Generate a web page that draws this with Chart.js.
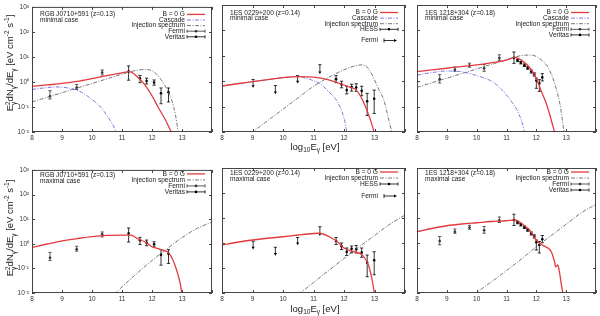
<!DOCTYPE html>
<html>
<head>
<meta charset="utf-8">
<script src="https://cdn.jsdelivr.net/npm/chart.js@4.4.1/dist/chart.umd.min.js"></script>
<style>
  body { margin: 0; background: #fff; width: 600px; height: 316px; overflow: hidden; position: relative;
         font-family: "Liberation Sans", Arial, sans-serif; color: #222; }
  canvas { position: absolute; }
  .xlabel { position: absolute; font-size: 9.5px; white-space: nowrap; transform: translate(-50%, -50%); }
  .ylabel { position: absolute; font-size: 9.5px; white-space: nowrap; transform: translate(-50%, -50%) rotate(-90deg); }
  .xlabel sub, .ylabel sub, .ylabel sup { font-size: 6.5px; }
  .ss { display: inline-flex; flex-direction: column; font-size: 6.5px; line-height: 6px; vertical-align: middle; }
</style>
</head>
<body>
<canvas id="p1"></canvas>
<canvas id="p2"></canvas>
<canvas id="p3"></canvas>
<canvas id="p4"></canvas>
<canvas id="p5"></canvas>
<canvas id="p6"></canvas>
<div class="ylabel" style="left:10px; top:63px">E<span class="ss"><span>2</span><span>γ</span></span>dN<sub>γ</sub>/dE<sub>γ</sub> [eV cm<sup>-2</sup> s<sup>-1</sup>]</div>
<div class="ylabel" style="left:10px; top:228px">E<span class="ss"><span>2</span><span>γ</span></span>dN<sub>γ</sub>/dE<sub>γ</sub> [eV cm<sup>-2</sup> s<sup>-1</sup>]</div>
<div class="xlabel" style="left:315px; top:147px">log<sub>10</sub>E<sub>γ</sub> [eV]</div>
<div class="xlabel" style="left:315px; top:309px">log<sub>10</sub>E<sub>γ</sub> [eV]</div>
<script>
// x = log10(E/eV), fluxes below are log10 of E^2 dN/dE [eV cm^-2 s^-1]
const xTicks = [8, 9, 10, 11, 12, 13, 14];
const yTicks = [1e-2, 1e-1, 1e0, 1e1, 1e2, 1e3];
const yTickLabels = ['10⁻²', '10⁻¹', '10⁰', '10¹', '10²', '10³'];

// --- RGB J0710+591 data
const j0710FermiE = [8.6, 9.49, 10.34];
const j0710FermiF = [-0.57, -0.22, 0.38];
const j0710FermiHi = [-0.35, -0.1, 0.48];
const j0710FermiLo = [-0.68, -0.3, 0.28];
const j0710VeritasE = [11.22, 11.6, 11.82, 12.07, 12.3, 12.55];
const j0710VeritasF = [0.42, 0.14, 0.04, -0.02, -0.45, -0.41];
const j0710VeritasHi = [0.64, 0.26, 0.15, 0.08, -0.24, -0.24];
const j0710VeritasLo = [0.07, -0.03, -0.08, -0.13, -0.87, -0.8];

// --- 1ES 0229+200 data
const es0229FermiE = [9.02, 9.75, 10.48, 11.21];
const es0229FermiF = [-0.19, -0.44, -0.02, 0.35];
const es0229FermiCap = [0.07, -0.17, 0.22, 0.65];
const es0229HessE = [11.74, 11.92, 12.09, 12.25, 12.4, 12.58, 12.76, 12.99];
const es0229HessF = [0.08, -0.13, -0.35, -0.23, -0.25, -0.38, -0.79, -0.69];
const es0229HessHi = [0.22, 0.0, -0.2, -0.12, -0.1, -0.2, -0.48, -0.35];
const es0229HessLo = [-0.06, -0.26, -0.5, -0.39, -0.4, -0.57, -1.35, -1.27];

// --- 1ES 1218+304 data
const es1218FermiE = [8.76, 9.27, 9.76, 10.25, 10.76];
const es1218FermiF = [0.08, 0.45, 0.62, 0.51, 0.91];
const es1218FermiHi = [0.26, 0.56, 0.71, 0.66, 1.04];
const es1218FermiLo = [-0.07, 0.39, 0.55, 0.39, 0.82];
const es1218VeritasE = [11.25, 11.37, 11.48, 11.6, 11.71, 11.83, 11.93, 12.0, 12.1, 12.2];
const es1218VeritasF = [0.92, 0.82, 0.73, 0.63, 0.52, 0.38, 0.27, 0.03, -0.08, 0.15];
const es1218VeritasHi = [1.15, 0.87, 0.78, 0.68, 0.57, 0.44, 0.33, 0.12, 0.06, 0.3];
const es1218VeritasLo = [0.7, 0.77, 0.68, 0.58, 0.47, 0.32, 0.2, -0.28, -0.4, 0.01];

// --- model curves, minimal case
const j0710MinB0E = [8, 8.5, 9, 9.5, 10, 10.5, 11, 11.25, 11.5, 11.75, 12.0, 12.2, 12.44, 12.66];
const j0710MinB0F = [-0.18, -0.12, -0.06, 0.02, 0.13, 0.25, 0.36, 0.41, 0.22, -0.1, -0.55, -1.0, -1.5, -2.05];
const j0710MinCascE = [8, 8.4, 8.8, 9.2, 9.6, 10, 10.3, 10.5, 10.7, 10.82];
const j0710MinCascF = [-0.3, -0.24, -0.2, -0.24, -0.38, -0.7, -1.02, -1.35, -1.72, -2.05];
const j0710MinInjE = [8, 9, 10, 11, 11.25, 11.5, 11.75, 12.0, 12.33, 12.5, 12.66, 12.78, 12.88];
const j0710MinInjF = [-0.8, -0.43, -0.06, 0.31, 0.4, 0.47, 0.5, 0.45, 0.05, -0.3, -0.74, -1.3, -2.05];

const es0229MinB0E = [8, 8.5, 9, 9.5, 10, 10.5, 11, 11.5, 12, 12.2, 12.4, 12.6, 12.8, 12.9, 13.0];
const es0229MinB0F = [-0.19, -0.1, -0.02, 0.06, 0.14, 0.18, 0.16, 0.05, -0.15, -0.24, -0.35, -0.72, -1.3, -1.65, -2.05];
const es0229MinCascE = [8, 8.5, 9, 9.5, 10, 10.5, 10.75, 11, 11.25, 11.5, 11.75, 12.0, 12.1];
const es0229MinCascF = [-0.19, -0.1, -0.02, 0.06, 0.14, 0.18, 0.12, 0.02, -0.12, -0.42, -0.75, -1.45, -2.05];
const es0229MinInjE = [8.95, 9.5, 10, 10.5, 11, 11.5, 12, 12.3, 12.56, 12.8, 13.0, 13.15, 13.3, 13.47, 13.58];
const es0229MinInjF = [-2.05, -1.55, -1.1, -0.65, -0.2, 0.15, 0.45, 0.58, 0.64, 0.5, 0.05, -0.35, -0.72, -1.53, -2.05];

const es1218MinB0E = [8, 9, 10, 11, 11.3, 11.5, 11.8, 12.0, 12.15, 12.33, 12.47, 12.62];
const es1218MinB0F = [0.38, 0.51, 0.64, 0.83, 0.94, 0.83, 0.5, 0.12, -0.35, -0.87, -1.4, -2.05];
const es1218MinCascE = [8, 8.5, 9, 9.5, 10, 10.5, 10.8, 11.0, 11.2, 11.35, 11.5, 11.62];
const es1218MinCascF = [0.24, 0.34, 0.4, 0.37, 0.22, 0.0, -0.28, -0.54, -0.85, -1.13, -1.55, -2.05];
const es1218MinInjE = [8, 9, 10, 11, 11.25, 11.5, 11.8, 12.1, 12.44, 12.71, 12.82, 12.93];
const es1218MinInjF = [-0.24, 0.12, 0.48, 0.85, 0.94, 1.01, 1.03, 0.9, 0.44, -0.48, -1.1, -2.05];

// --- model curves, maximal case
const j0710MaxB0E = [8, 8.5, 9, 9.5, 10, 10.5, 11, 11.3, 11.5, 11.8, 12, 12.2, 12.4, 12.55, 12.65, 12.77, 12.93, 13.0];
const j0710MaxB0F = [-0.15, -0.01, 0.12, 0.21, 0.29, 0.34, 0.35, 0.35, 0.22, 0.05, -0.12, -0.2, -0.27, -0.36, -0.55, -0.88, -1.55, -2.05];
const j0710MaxInjE = [10.74, 11, 11.5, 12, 12.5, 13, 13.5, 14];
const j0710MaxInjF = [-2.05, -1.75, -1.2, -0.68, -0.2, 0.25, 0.62, 0.88];

const es0229MaxB0E = [8, 8.5, 9, 9.5, 10, 10.5, 11, 11.2, 11.5, 11.8, 12, 12.3, 12.6, 12.8, 12.95, 13.0];
const es0229MaxB0F = [-0.08, 0.03, 0.12, 0.19, 0.25, 0.32, 0.38, 0.39, 0.26, 0.03, -0.2, -0.34, -0.48, -0.88, -1.65, -2.05];
const es0229MaxInjE = [10.52, 11, 11.5, 12, 12.5, 13, 13.5, 14];
const es0229MaxInjF = [-2.05, -1.58, -1.1, -0.62, -0.15, 0.3, 0.75, 1.12];

const es1218MaxB0E = [8, 8.5, 9, 9.5, 10, 10.5, 11, 11.3, 11.5, 11.8, 12, 12.2, 12.4, 12.5, 12.6, 12.65, 12.72, 12.78, 12.85, 12.9];
const es1218MaxB0F = [0.45, 0.58, 0.69, 0.76, 0.81, 0.86, 0.89, 0.92, 0.79, 0.48, 0.12, -0.08, -0.21, -0.35, -0.7, -0.95, -0.88, -1.2, -1.75, -2.05];
const es1218MaxInjE = [9.91, 10.5, 11, 11.5, 12, 12.5, 13, 13.5, 14];
const es1218MaxInjF = [-2.05, -1.55, -1.1, -0.64, -0.15, 0.3, 0.75, 1.2, 1.55];

const RED = '#e23a3e', BLUE = '#5c5cd8', GREY = '#555', INK = '#000', FERMI = '#333';
const FONT = '"Liberation Sans", Arial, sans-serif';

const pts = (xs, ls) => xs.map((x, i) => ({ x, y: 10 ** ls[i] }));

const curve = (label, xs, ls, color, dash, width) => ({
    label, data: pts(xs, ls), showLine: true, borderColor: color, borderWidth: width,
    borderDash: dash, pointRadius: 0, cubicInterpolationMode: 'monotone'
});
const b0 = (xs, ls) => curve('B = 0 G', xs, ls, RED, [], 1.3);
const cascade = (xs, ls) => curve('Cascade', xs, ls, BLUE, [4, 1.5, 1, 1.5], 0.8);
const injection = (xs, ls) => curve('Injection spectrum', xs, ls, GREY, [4, 1.5, 1, 1.5], 0.8);

const errPoints = (label, xs, ls, hi, lo, color) => ({
    label, data: pts(xs, ls), showLine: false, pointRadius: 1.3, pointBackgroundColor: color,
    pointBorderWidth: 0, errHi: hi.map(v => 10 ** v), errLo: lo.map(v => 10 ** v), errColor: color
});
const upperLimits = (label, xs, ls, caps, color) => ({
    label, data: pts(xs, ls), showLine: false, pointStyle: 'triangle', rotation: 180, pointRadius: 1.8,
    pointBackgroundColor: color, pointBorderWidth: 0, errHi: caps.map(v => 10 ** v), errLo: null,
    errColor: color, upper: true, legendGap: 1
});

// error bars, frame with inward ticks, title and gnuplot style key
const gnuplotFrame = {
    id: 'gnuplotFrame',
    beforeDatasetsDraw(chart) {
        const { ctx, scales: { x, y } } = chart;
        ctx.save();
        ctx.lineWidth = 0.8;
        chart.data.datasets.forEach(ds => {
            if (!ds.errHi) return;
            ctx.strokeStyle = ds.errColor;
            ds.data.forEach((p, i) => {
                const px = x.getPixelForValue(p.x);
                const top = y.getPixelForValue(ds.errHi[i]);
                const bot = y.getPixelForValue(ds.errLo ? ds.errLo[i] : p.y);
                ctx.beginPath();
                ctx.moveTo(px, top); ctx.lineTo(px, bot);
                ctx.moveTo(px - 1.6, top); ctx.lineTo(px + 1.6, top);
                if (ds.errLo) { ctx.moveTo(px - 1.6, bot); ctx.lineTo(px + 1.6, bot); }
                ctx.stroke();
            });
        });
        ctx.restore();
    },
    afterDraw(chart, args, opts) {
        const { ctx, chartArea: a, scales: { x, y } } = chart;
        ctx.save();
        ctx.strokeStyle = '#444';
        ctx.lineWidth = 1;
        ctx.strokeRect(a.left + 0.5, a.top + 0.5, a.width - 1, a.height - 1);
        ctx.beginPath();
        yTicks.forEach(v => {
            const py = Math.round(y.getPixelForValue(v)) + 0.5;
            ctx.moveTo(a.left, py); ctx.lineTo(a.left + 3, py);
            ctx.moveTo(a.right, py); ctx.lineTo(a.right - 3, py);
        });
        xTicks.forEach(v => {
            const px = Math.round(x.getPixelForValue(v)) + 0.5;
            ctx.moveTo(px, a.bottom); ctx.lineTo(px, a.bottom - 3);
            ctx.moveTo(px, a.top); ctx.lineTo(px, a.top + 3);
        });
        ctx.stroke();

        ctx.fillStyle = '#222';
        ctx.font = '6.6px ' + FONT;
        ctx.textBaseline = 'middle';
        ctx.textAlign = 'left';
        opts.title.forEach((t, i) => ctx.fillText(t, a.left + 8, a.top + opts.titleTop + i * opts.titleStep));

        ctx.textAlign = 'right';
        let row = 0;
        chart.data.datasets.forEach(ds => {
            row += ds.legendGap || 0;
            const ly = a.top + opts.keyTop + row * opts.keyStep;
            row++;
            ctx.fillText(ds.label, a.right - 27, ly);
            const x0 = a.right - 25, x1 = a.right - 7;
            ctx.beginPath();
            if (ds.showLine) {
                ctx.strokeStyle = ds.borderColor;
                ctx.lineWidth = ds.borderWidth;
                ctx.setLineDash(ds.borderDash);
                ctx.moveTo(x0, ly); ctx.lineTo(x1, ly);
                ctx.stroke();
                ctx.setLineDash([]);
            } else if (ds.upper) {
                ctx.strokeStyle = ds.errColor;
                ctx.lineWidth = 0.8;
                ctx.moveTo(x0 + 4, ly - 2); ctx.lineTo(x0 + 4, ly + 2);
                ctx.moveTo(x0 + 4, ly); ctx.lineTo(x1 - 3, ly);
                ctx.stroke();
                ctx.fillStyle = ds.errColor;
                ctx.beginPath();
                ctx.moveTo(x1 - 1, ly); ctx.lineTo(x1 - 4, ly - 1.6); ctx.lineTo(x1 - 4, ly + 1.6);
                ctx.fill();
                ctx.fillStyle = '#222';
            } else {
                ctx.strokeStyle = ds.errColor;
                ctx.lineWidth = 0.8;
                ctx.moveTo(x0, ly); ctx.lineTo(x1, ly);
                ctx.moveTo(x0, ly - 1.6); ctx.lineTo(x0, ly + 1.6);
                ctx.moveTo(x1, ly - 1.6); ctx.lineTo(x1, ly + 1.6);
                ctx.stroke();
                ctx.fillStyle = ds.errColor;
                ctx.beginPath();
                ctx.arc((x0 + x1) / 2, ly, 1.3, 0, Math.PI * 2);
                ctx.fill();
                ctx.fillStyle = '#222';
            }
        });
        ctx.restore();
    }
};

const Y_W = 32, PAD_T = 5, X_H = 16;

function makePanel(id, box, datasets, cfg) {
    const cv = document.getElementById(id);
    cv.width = box.right - box.left + Y_W + 2;
    cv.height = box.bottom - box.top + PAD_T + X_H;
    cv.style.left = (box.left - Y_W) + 'px';
    cv.style.top = (box.top - PAD_T) + 'px';
    return new Chart(cv, {
        type: 'scatter',
        data: { datasets },
        plugins: [gnuplotFrame],
        options: {
            responsive: false,
            animation: false,
            devicePixelRatio: 1,
            layout: { padding: { top: PAD_T, right: 2, left: 0, bottom: 0 } },
            plugins: { legend: { display: false }, tooltip: { enabled: false }, gnuplotFrame: cfg },
            scales: {
                x: {
                    type: 'linear', min: 8, max: 14,
                    afterBuildTicks: s => { s.ticks = xTicks.map(v => ({ value: v })); },
                    afterFit: s => { s.height = X_H; },
                    grid: { display: false, drawTicks: false },
                    border: { display: false },
                    ticks: {
                        padding: 2, color: '#333', autoSkip: false, maxRotation: 0,
                        font: { family: FONT, size: 6.5 },
                        callback: v => (v === 14 ? '' : v)
                    }
                },
                y: {
                    type: 'logarithmic', min: 0.01, max: 1000,
                    afterBuildTicks: s => { s.ticks = yTicks.map(v => ({ value: v })); },
                    afterFit: s => { s.width = Y_W; },
                    grid: { display: false, drawTicks: false },
                    border: { display: false },
                    ticks: {
                        display: cfg.yLabels, padding: 3, color: '#333',
                        font: { family: FONT, size: 6.5 },
                        callback: v => yTickLabels[yTicks.indexOf(v)]
                    }
                }
            }
        }
    });
}

const topRow = { titleTop: 7.7, titleStep: 5.6, keyTop: 7.5, keyStep: 5.6 };
const botRow = { titleTop: 5.3, titleStep: 5.7, keyTop: 4, keyStep: 6 };

makePanel('p1', { left: 32, right: 214, top: 5, bottom: 132 }, [
    b0(j0710MinB0E, j0710MinB0F),
    cascade(j0710MinCascE, j0710MinCascF),
    injection(j0710MinInjE, j0710MinInjF),
    errPoints('Fermi', j0710FermiE, j0710FermiF, j0710FermiHi, j0710FermiLo, FERMI),
    errPoints('Veritas', j0710VeritasE, j0710VeritasF, j0710VeritasHi, j0710VeritasLo, INK)
], { ...topRow, yLabels: true, title: ['RGB J0710+591 (z=0.13)', 'minimal case'] });

makePanel('p2', { left: 222, right: 407, top: 5, bottom: 132 }, [
    b0(es0229MinB0E, es0229MinB0F),
    cascade(es0229MinCascE, es0229MinCascF),
    injection(es0229MinInjE, es0229MinInjF),
    errPoints('HESS', es0229HessE, es0229HessF, es0229HessHi, es0229HessLo, INK),
    upperLimits('Fermi', es0229FermiE, es0229FermiF, es0229FermiCap, INK)
], { ...topRow, yLabels: false, title: ['1ES 0229+200 (z=0.14)', 'minimal case'] });

makePanel('p3', { left: 417, right: 598, top: 5, bottom: 132 }, [
    b0(es1218MinB0E, es1218MinB0F),
    cascade(es1218MinCascE, es1218MinCascF),
    injection(es1218MinInjE, es1218MinInjF),
    errPoints('Fermi', es1218FermiE, es1218FermiF, es1218FermiHi, es1218FermiLo, FERMI),
    errPoints('Veritas', es1218VeritasE, es1218VeritasF, es1218VeritasHi, es1218VeritasLo, INK)
], { ...topRow, yLabels: false, title: ['1ES 1218+304 (z=0.18)', 'minimal case'] });

makePanel('p4', { left: 32, right: 214, top: 168, bottom: 293 }, [
    b0(j0710MaxB0E, j0710MaxB0F),
    injection(j0710MaxInjE, j0710MaxInjF),
    errPoints('Fermi', j0710FermiE, j0710FermiF, j0710FermiHi, j0710FermiLo, FERMI),
    errPoints('Veritas', j0710VeritasE, j0710VeritasF, j0710VeritasHi, j0710VeritasLo, INK)
], { ...botRow, yLabels: true, title: ['RGB J0710+591 (z=0.13)', 'maximal case'] });

makePanel('p5', { left: 222, right: 407, top: 168, bottom: 293 }, [
    b0(es0229MaxB0E, es0229MaxB0F),
    injection(es0229MaxInjE, es0229MaxInjF),
    errPoints('HESS', es0229HessE, es0229HessF, es0229HessHi, es0229HessLo, INK),
    upperLimits('Fermi', es0229FermiE, es0229FermiF, es0229FermiCap, INK)
], { ...botRow, yLabels: false, title: ['1ES 0229+200 (z=0.14)', 'maximal case'] });

makePanel('p6', { left: 417, right: 598, top: 168, bottom: 293 }, [
    b0(es1218MaxB0E, es1218MaxB0F),
    injection(es1218MaxInjE, es1218MaxInjF),
    errPoints('Fermi', es1218FermiE, es1218FermiF, es1218FermiHi, es1218FermiLo, FERMI),
    errPoints('Veritas', es1218VeritasE, es1218VeritasF, es1218VeritasHi, es1218VeritasLo, INK)
], { ...botRow, yLabels: false, title: ['1ES 1218+304 (z=0.18)', 'maximal case'] });
</script>
</body>
</html>
